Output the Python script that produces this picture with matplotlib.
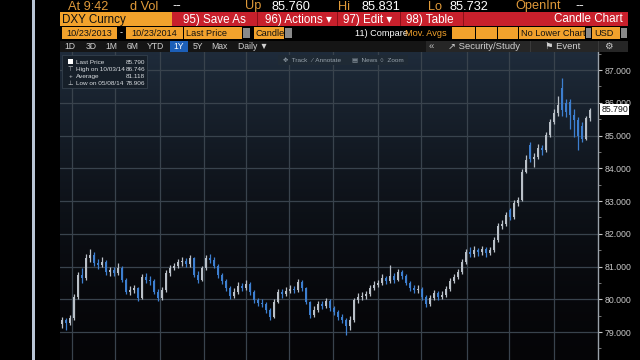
import numpy as np
import matplotlib
matplotlib.use("Agg")
import matplotlib.pyplot as plt
from matplotlib.patches import Rectangle
from matplotlib.transforms import blended_transform_factory

# DXY daily candles, roughly two sessions per candle (10/23/2013 - 10/23/2014)
opens = [79.25, 79.37, 79.27, 79.43, 80.07, 80.74, 80.65, 81.26, 81.35, 81.11,
         81.05, 81.14, 80.83, 80.89, 80.80, 80.95, 80.59, 80.22, 80.28, 80.33,
         80.04, 80.68, 80.59, 80.56, 80.22, 80.04, 80.28, 80.80, 80.95, 81.02,
         81.14, 81.17, 81.08, 81.26, 80.74, 80.59, 80.95, 81.26, 81.20, 81.02,
         80.74, 80.56, 80.34, 80.10, 80.22, 80.40, 80.34, 80.47, 80.22, 79.98,
         79.89, 79.86, 79.67, 79.46, 79.92, 80.22, 80.16, 80.25, 80.31, 80.28,
         80.53, 80.34, 79.92, 79.52, 79.67, 79.86, 79.80, 79.95, 79.73, 79.61,
         79.46, 79.37, 79.18, 79.37, 79.98, 80.07, 80.10, 80.16, 80.34, 80.44,
         80.50, 80.65, 80.56, 80.71, 80.59, 80.83, 80.71, 80.50, 80.34, 80.28,
         80.31, 80.07, 79.86, 80.04, 80.19, 80.07, 80.13, 80.31, 80.56, 80.68,
         80.83, 81.14, 81.44, 81.38, 81.50, 81.44, 81.53, 81.41, 81.50, 81.81,
         82.24, 82.30, 82.72, 82.50, 82.94, 83.03, 83.89, 84.72, 84.28, 84.34,
         84.62, 84.56, 85.02, 85.41, 85.69, 86.45, 86.00, 86.02, 85.63, 85.47,
         85.30, 84.90, 85.53]
closes = [79.37, 79.27, 79.43, 80.07, 80.74, 80.65, 81.26, 81.35, 81.11, 81.05,
          81.14, 80.83, 80.89, 80.80, 80.95, 80.59, 80.22, 80.28, 80.33, 80.04,
          80.68, 80.59, 80.56, 80.22, 80.04, 80.28, 80.80, 80.95, 81.02, 81.14,
          81.17, 81.08, 81.26, 80.74, 80.59, 80.95, 81.26, 81.20, 81.02, 80.74,
          80.56, 80.34, 80.10, 80.22, 80.40, 80.34, 80.47, 80.22, 79.98, 79.89,
          79.86, 79.67, 79.46, 79.92, 80.22, 80.16, 80.25, 80.31, 80.28, 80.53,
          80.34, 79.92, 79.52, 79.67, 79.86, 79.80, 79.95, 79.73, 79.61, 79.46,
          79.37, 79.18, 79.37, 79.98, 80.07, 80.10, 80.16, 80.34, 80.44, 80.50,
          80.65, 80.56, 80.71, 80.59, 80.83, 80.71, 80.50, 80.34, 80.28, 80.31,
          80.07, 79.86, 80.04, 80.19, 80.07, 80.13, 80.31, 80.56, 80.68, 80.83,
          81.14, 81.44, 81.38, 81.50, 81.44, 81.53, 81.41, 81.50, 81.81, 82.24,
          82.30, 82.57, 82.50, 82.94, 83.03, 83.89, 84.25, 84.28, 84.34, 84.62,
          84.56, 85.02, 85.41, 85.69, 85.93, 85.78, 85.72, 85.63, 85.47, 85.00,
          84.90, 85.53, 85.79]
highs = [79.45, 79.42, 79.52, 80.15, 80.82, 80.95, 81.38, 81.52, 81.45, 81.22,
         81.28, 81.20, 81.00, 80.98, 81.10, 81.02, 80.65, 80.40, 80.45, 80.38,
         80.76, 80.80, 80.70, 80.62, 80.30, 80.36, 80.88, 81.05, 81.12, 81.22,
         81.30, 81.25, 81.35, 81.30, 80.85, 81.02, 81.35, 81.38, 81.28, 81.08,
         80.80, 80.62, 80.40, 80.35, 80.52, 80.50, 80.58, 80.52, 80.28, 80.05,
         80.00, 79.92, 79.72, 80.00, 80.30, 80.32, 80.36, 80.42, 80.40, 80.62,
         80.58, 80.38, 79.96, 79.78, 79.95, 79.96, 80.05, 80.00, 79.80, 79.68,
         79.55, 79.42, 79.48, 80.05, 80.18, 80.22, 80.26, 80.45, 80.55, 80.60,
         80.76, 80.72, 81.05, 80.80, 80.92, 80.88, 80.76, 80.56, 80.42, 80.42,
         80.36, 80.12, 80.12, 80.28, 80.25, 80.24, 80.40, 80.64, 80.78, 80.92,
         81.22, 81.52, 81.60, 81.62, 81.58, 81.64, 81.60, 81.60, 81.90, 82.32,
         82.42, 82.66, 82.80, 83.02, 83.12, 83.98, 84.40, 84.80, 84.48, 84.75,
         84.70, 85.10, 85.50, 85.80, 86.20, 86.75, 86.10, 86.10, 85.80, 85.55,
         85.40, 85.60, 85.85]
lows = [79.12, 79.06, 79.20, 79.38, 80.00, 80.50, 80.60, 81.15, 81.02, 80.92,
        80.98, 80.75, 80.72, 80.70, 80.74, 80.52, 80.15, 80.12, 80.18, 79.96,
        80.00, 80.50, 80.45, 80.15, 79.95, 79.98, 80.22, 80.72, 80.88, 80.95,
        81.02, 80.98, 81.00, 80.68, 80.50, 80.55, 80.90, 81.10, 80.95, 80.66,
        80.48, 80.26, 80.02, 80.05, 80.15, 80.25, 80.28, 80.12, 79.90, 79.80,
        79.75, 79.58, 79.38, 79.42, 79.88, 80.05, 80.10, 80.18, 80.18, 80.22,
        80.26, 79.85, 79.44, 79.45, 79.60, 79.70, 79.74, 79.65, 79.52, 79.38,
        79.26, 78.91, 79.05, 79.30, 79.90, 79.98, 80.02, 80.10, 80.28, 80.36,
        80.44, 80.46, 80.50, 80.50, 80.55, 80.62, 80.42, 80.26, 80.18, 80.20,
        79.98, 79.76, 79.80, 79.98, 79.98, 80.00, 80.08, 80.26, 80.50, 80.62,
        80.78, 81.08, 81.28, 81.30, 81.32, 81.36, 81.30, 81.34, 81.45, 81.76,
        82.16, 82.24, 82.42, 82.45, 82.86, 83.00, 83.84, 84.20, 84.05, 84.28,
        84.40, 84.50, 84.95, 85.35, 85.60, 85.60, 85.55, 85.20, 84.95, 84.55,
        84.80, 84.85, 85.45]

# month boundaries (Nov 2013 ... Oct 2014) in candle units
month_starts = [2.5, 13.3, 24.5, 35.5, 46.0, 56.8, 67.8, 79.0, 89.8, 101.3, 111.8, 123.0]
price_ticks = [79, 80, 81, 82, 83, 84, 85, 86, 87]

legend_rows = [("Last Price", "85.790"), ("High on 10/03/14", "86.746"),
               ("Average", "81.118"), ("Low on 05/08/14", "78.906")]

W, H = 640, 360
FONT = ["Liberation Sans Narrow", "Liberation Sans", "DejaVu Sans"]
plt.rcParams["font.family"] = FONT

ORANGE = "#f2a22c"
DIMOR = "#e09a3a"
RED = "#c8202c"

fig = plt.figure(figsize=(6.4, 3.6), dpi=100)
fig.patch.set_facecolor("black")


def box(x0, y0, x1, y1, color, z=1, **kw):
    fig.add_artist(Rectangle((x0 / W, 1 - y1 / H), (x1 - x0) / W, (y1 - y0) / H,
                             transform=fig.transFigure, facecolor=color,
                             edgecolor=kw.pop("ec", "none"), zorder=z, **kw))


def txt(x, y, s, color, size, ha="left", va="center", z=3, **kw):
    fig.text(x / W, 1 - y / H, s, color=color, fontsize=size, ha=ha, va=va,
             zorder=z, **kw)


# --- chart panel ---
ax = fig.add_axes([60 / W, 0, 538 / W, 308 / H])
ax.set_facecolor("black")
ymin, ymax = 78.145, 87.55
x = np.arange(len(closes))
ax.set_xlim(-0.5, 134)
ax.set_ylim(ymin, ymax)

grad = np.linspace(1, 0, 256) ** 1.6
cols = np.zeros((256, 1, 3))
cols[:, 0, 0] = 0.02 + 0.10 * grad
cols[:, 0, 1] = 0.02 + 0.15 * grad
cols[:, 0, 2] = 0.03 + 0.20 * grad
ax.imshow(cols, extent=[-0.5, 134, ymin, ymax], aspect="auto", zorder=0)

for m in month_starts:
    ax.axvline(m, color="#39434d", lw=0.9, zorder=1)
for p in price_ticks:
    ax.axhline(p, color="#39434d", lw=0.9, zorder=1)

o = np.array(opens)
c = np.array(closes)
up = c >= o
colors = np.where(up, "#b9c0c8", "#3d7fd0")
ax.vlines(x, lows, highs, colors=colors, lw=0.9, zorder=2)
ax.bar(x, np.abs(c - o), bottom=np.minimum(o, c), width=0.72, color=colors,
       linewidth=0, zorder=3)

ax.yaxis.tick_right()
ax.set_yticks(price_ticks)
ax.set_yticklabels([f"{p:.3f}" for p in price_ticks])
ax.set_yticks(np.arange(78.5, 87.6, 1.0), minor=True)
ax.tick_params(axis="y", which="major", colors="#c8c8c8", labelsize=6.3,
               length=3, width=0.8, pad=1.5)
ax.tick_params(axis="y", which="minor", colors="#888888", length=2, width=0.6)
ax.set_xticks([])
for s in ["top", "left", "bottom"]:
    ax.spines[s].set_visible(False)
ax.spines["right"].set_color("#9aa2aa")
ax.spines["right"].set_linewidth(1.0)

tr = blended_transform_factory(ax.transAxes, ax.transData)
ax.text(1.006, closes[-1], f"{closes[-1]:.3f}", transform=tr, fontsize=6.3,
        color="#111111", va="center", ha="left", clip_on=False, zorder=10,
        bbox=dict(boxstyle="square,pad=0.15", fc="white", ec="none"))

# legend box
box(62, 55, 147, 88, "#161f29", z=5, ec="#34404c", lw=0.6)
for i, (lab, val) in enumerate(legend_rows):
    yy = 62 + i * 7.2
    txt(76, yy, lab, "#d8dce0", 4.6, z=6)
    txt(145, yy, val, "#d8dce0", 4.6, ha="right", z=6)
box(68, 59, 73, 64, "white", z=6)
for i, sym in enumerate(["⊤", "+", "⊥"]):
    txt(70.5, 69.2 + i * 7.2, sym, "#c8ccd0", 4.6, ha="center", z=6)

# chart toolbar
box(278, 55, 408, 65, "#1f2a35", z=5)
for xx, s in [(283, "✥  Track"), (311, "⁄  Annotate"), (352, "▤  News"), (380, "○  Zoom")]:
    txt(xx, 60, s, "#97a2ac", 4.6, z=6)

# --- terminal header ---
box(0, 0, 33, H, "black", z=0)
box(32, 0, 35, H, "#b9c6d6", z=2)

top_items = [(68, "At 9:42", DIMOR), (130, "d Vol", DIMOR), (172, "--", "white"),
             (245, "Up", DIMOR), (272, "85.760", "white"), (338, "Hi", DIMOR),
             (362, "85.831", "white"), (428, "Lo", DIMOR), (450, "85.732", "white"),
             (515, "OpenInt", DIMOR), (575, "--", "white")]
for xx, s, col in top_items:
    txt(xx, 9.5, s, col, 9.2, va="baseline")

box(60, 12, 172, 26, ORANGE)
txt(62, 19.5, "DXY Curncy", "#111111", 8.4)
box(172, 12, 628, 26, RED)
for xx in [257, 337, 400, 463]:
    box(xx, 12, xx + 1, 26, "#8c1018", z=2)
txt(214, 19.5, "95) Save As", "white", 8.4, ha="center")
txt(298, 19.5, "96) Actions ▾", "white", 8.4, ha="center")
txt(368, 19.5, "97) Edit ▾", "white", 8.4, ha="center")
txt(430, 19.5, "98) Table", "white", 8.4, ha="center")
txt(623, 19.5, "Candle Chart", "white", 8.4, ha="right")

row3 = 33
box(62, 27, 117, 39, ORANGE)
txt(89.5, row3, "10/23/2013", "#111111", 6.6, ha="center")
txt(121, row3, "-", "white", 6.6, ha="center")
box(126, 27, 183, 39, ORANGE)
txt(154.5, row3, "10/23/2014", "#111111", 6.6, ha="center")
box(184, 27, 242, 39, ORANGE)
txt(186, row3, "Last Price", "#111111", 6.6)
box(243, 28, 250, 38, "#8a8a8a")
box(254, 27, 284, 39, ORANGE)
txt(256, row3, "Candle", "#111111", 6.6)
box(285, 28, 292, 38, "#8a8a8a")
txt(355, row3, "11) Compare", "white", 6.6)
txt(405, row3, "Mov. Avgs", ORANGE, 6.6)
for a, b in [(452, 475), (476, 497), (498, 518)]:
    box(a, 27, b, 39, ORANGE)
box(519, 27, 585, 39, ORANGE)
txt(521, row3, "No Lower Chart", "#111111", 6.6)
box(586, 28, 591, 38, "#8a8a8a")
box(592, 27, 620, 39, ORANGE)
txt(594, row3, "USD", "#111111", 6.6)
box(621, 28, 627, 38, "#8a8a8a")

box(60, 41, 426, 52, "#151515")
box(426, 41, 628, 52, "#262626")
box(170, 41, 188, 52, "#1c5fb8", z=2)
for xx, s in [(70, "1D"), (91, "3D"), (111, "1M"), (133, "6M"), (155, "YTD"),
              (179, "1Y"), (198, "5Y"), (219, "Max"), (253, "Daily ▼")]:
    txt(xx, 46.5, s, "#d0d0d0" if s != "1Y" else "white", 6.2, ha="center", z=3)
for xx in [530, 598]:
    box(xx, 41, xx + 1, 52, "#3a3a3a", z=2)
txt(431, 46.5, "«", "#c0c0c0", 6.8, ha="center", z=3)
txt(448, 46.5, "↗ Security/Study", "#d0d0d0", 6.8, z=3)
txt(545, 46.5, "⚑ Event", "#d0d0d0", 6.8, z=3)
txt(608, 46.5, "⚙", "#d0d0d0", 6.8, ha="center", z=3)

fig.savefig("out.png", dpi=100, facecolor="black")
